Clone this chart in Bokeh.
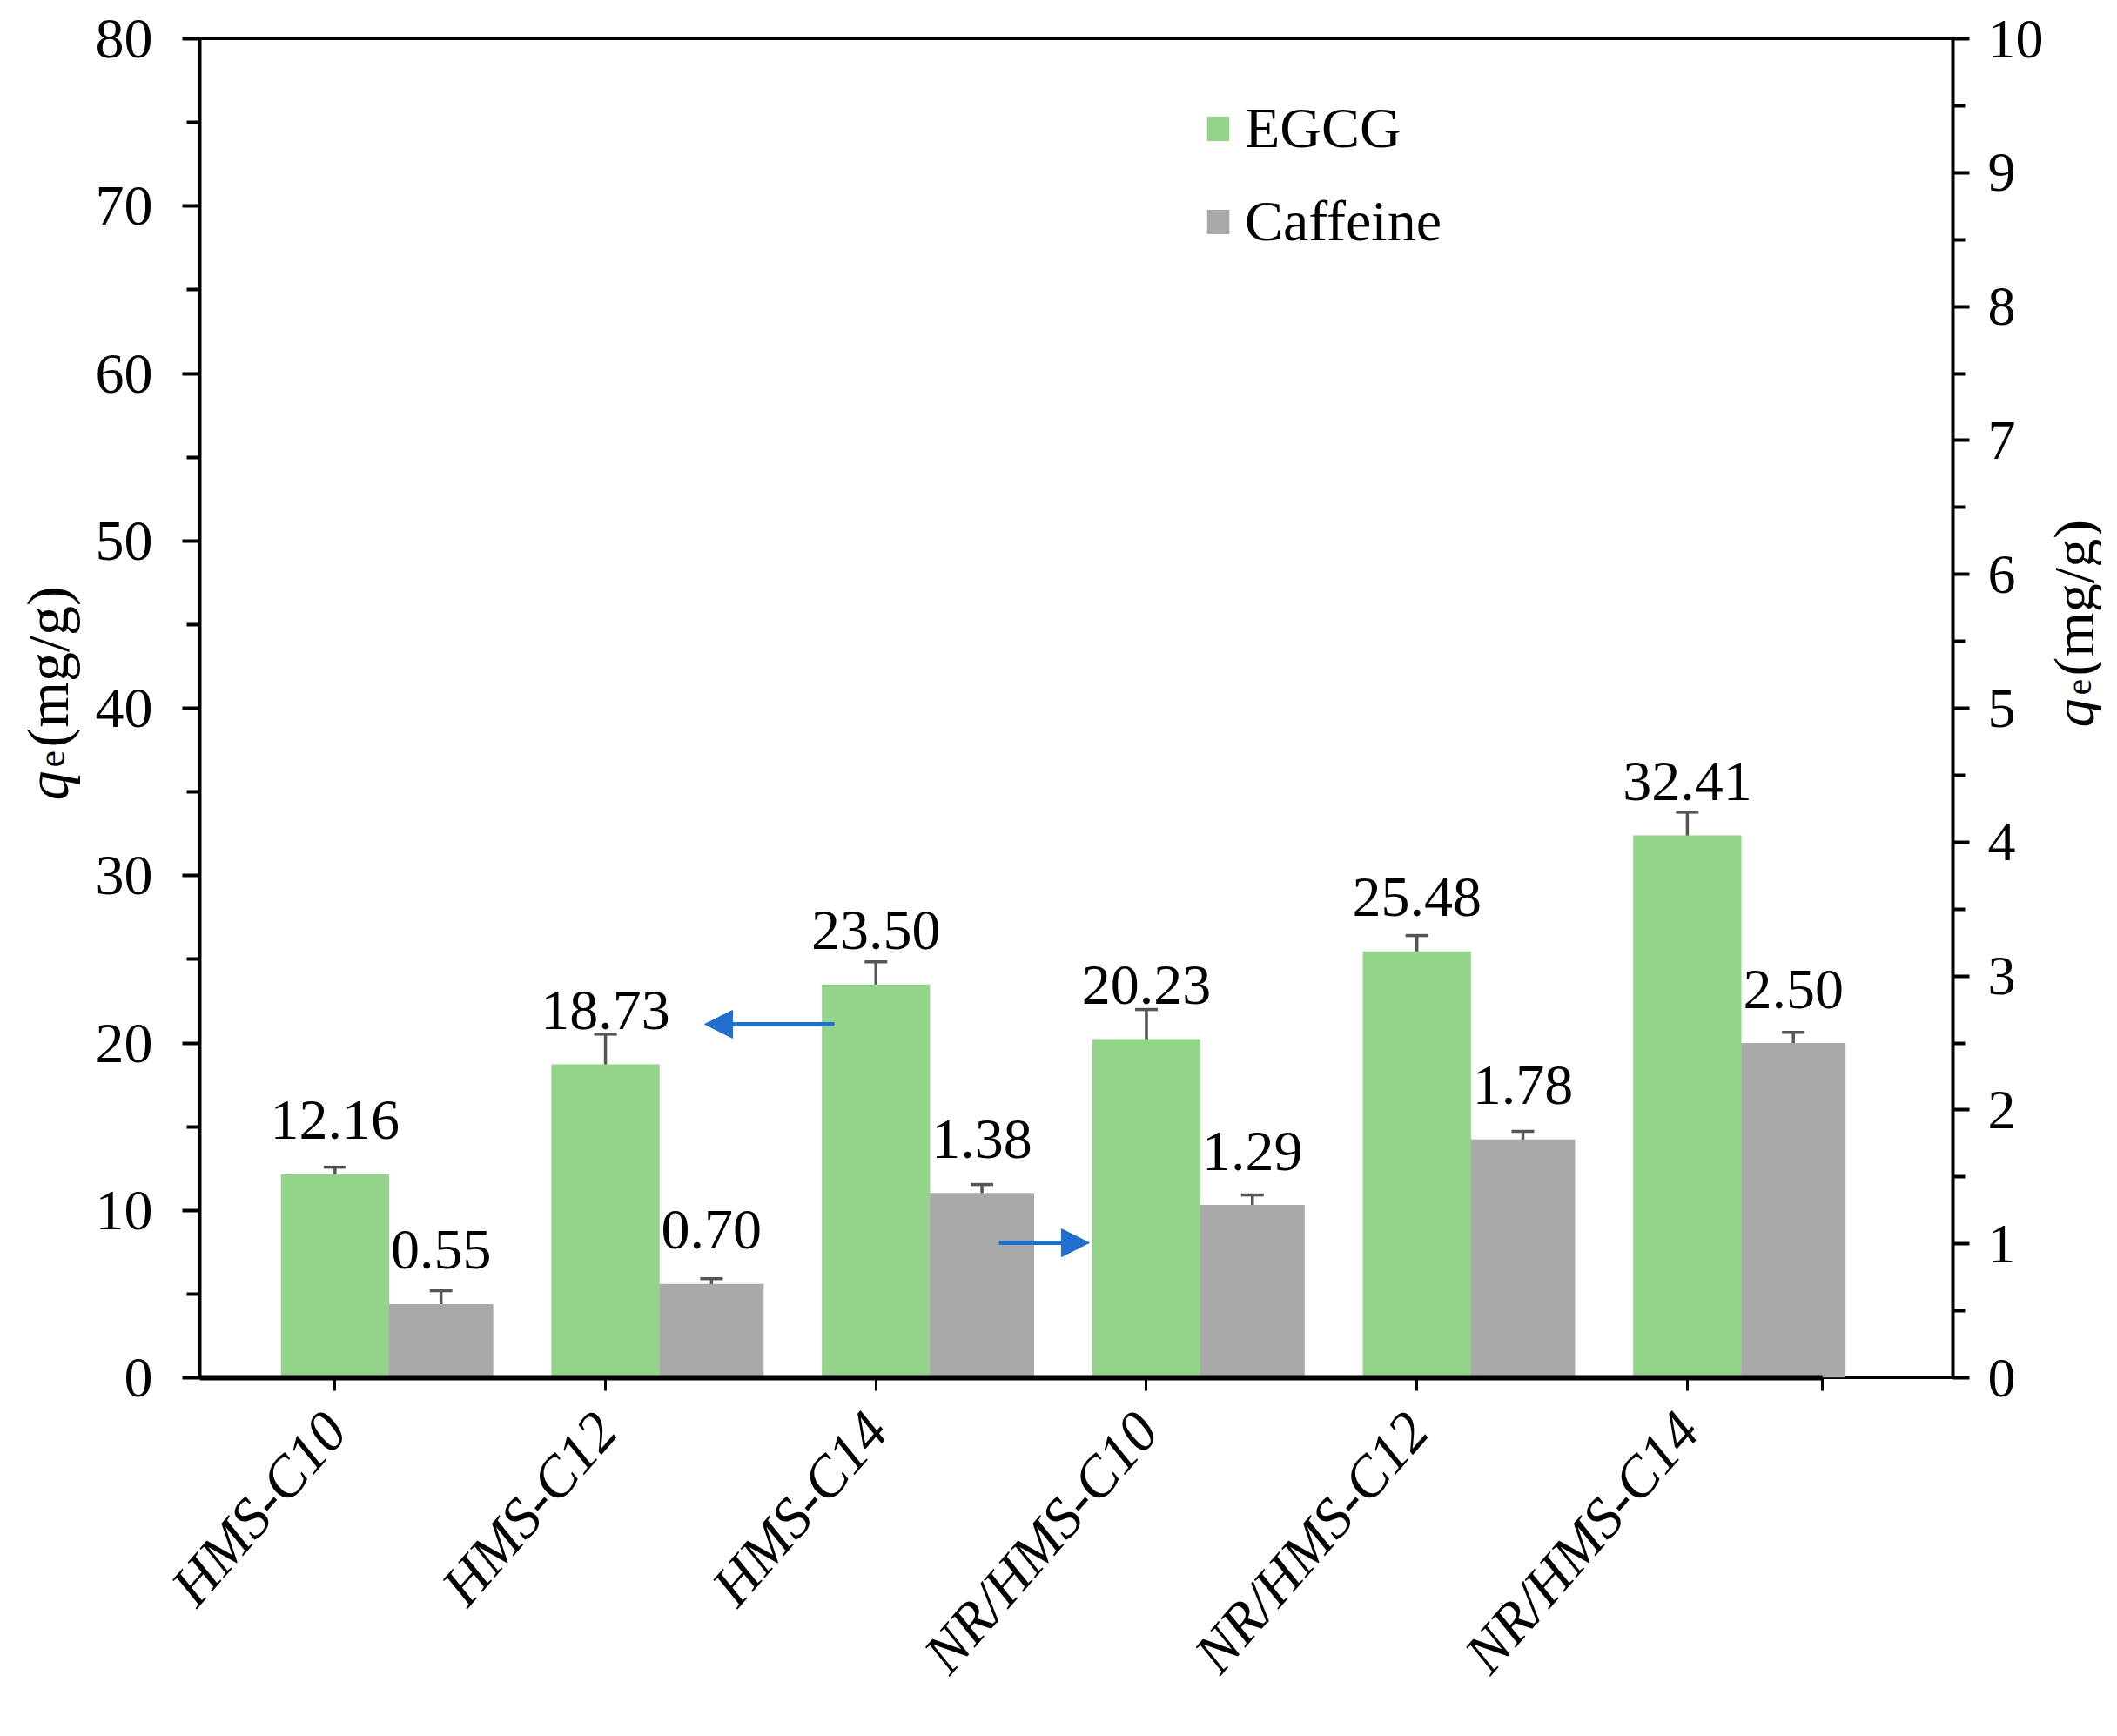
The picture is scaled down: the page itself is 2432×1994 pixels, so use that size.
import math
from bokeh.plotting import figure
from bokeh.layouts import row
from bokeh.models import (Range1d, LinearAxis, FixedTicker, Whisker, TeeHead, ColumnDataSource,
                          Legend, LegendItem, Label, Arrow, NormalHead)
from bokeh.core.properties import value
from bokeh.embed import file_html
from bokeh.resources import INLINE

# ---------------- data ----------------
categories = ["HMS-C10", "HMS-C12", "HMS-C14", "NR/HMS-C10", "NR/HMS-C12", "NR/HMS-C14"]
egcg = [12.16, 18.73, 23.50, 20.23, 25.48, 32.41]
egcg_err = [0.42, 1.80, 1.35, 1.77, 0.94, 1.38]
caffeine = [0.55, 0.70, 1.38, 1.29, 1.78, 2.50]
caffeine_err = [0.10, 0.04, 0.063, 0.075, 0.06, 0.08]
left_ticks = [0, 10, 20, 30, 40, 50, 60, 70, 80]
left_minor = [5, 15, 25, 35, 45, 55, 65, 75]
right_ticks = [0, 1, 2, 3, 4, 5, 6, 7, 8, 9, 10]
right_minor = [0.5, 1.5, 2.5, 3.5, 4.5, 5.5, 6.5, 7.5, 8.5, 9.5]
y_title = ["q", "e", "(mg/g)"]
# annotation arrows (data coordinates, left axis units)
arrow_left = dict(x0=2.346, y0=21.12, x1=1.867, y1=21.12)
arrow_right = dict(x0=2.955, y0=8.06, x1=3.289, y1=8.06)

GREEN = "#93D38A"
GRAY = "#A9A9A9"
ERR = "#555555"
BLUE = "#1F6FD0"
FONT = "Liberation Serif"
TXT = "66px"
H = 1966
FRAME_H = 1538
TOP = 44
BOTTOM = H - TOP - FRAME_H

n = len(categories)
egcg_x = [i + 0.5 for i in range(n)]
caf_x = [i + 0.892 for i in range(n)]

p = figure(frame_width=2014, frame_height=FRAME_H,
           x_range=Range1d(0, 6.482), y_range=Range1d(0, 80),
           output_backend="svg", toolbar_location=None,
           min_border_left=129, min_border_right=105, min_border_top=TOP, min_border_bottom=BOTTOM,
           outline_line_color="black", outline_line_width=3,
           background_fill_color="white", border_fill_color="white")
p.extra_y_ranges = {"right": Range1d(0, 10)}
p.grid.visible = False

# bars
r_egcg = p.vbar(x=egcg_x, top=egcg, bottom=0, width=0.40, fill_color=GREEN, line_color=None)
r_caf = p.vbar(x=caf_x, top=caffeine, bottom=0, width=0.386, fill_color=GRAY, line_color=None,
               y_range_name="right")

# error bars
src_e = ColumnDataSource(dict(base=egcg_x,
                              upper=[v + e for v, e in zip(egcg, egcg_err)],
                              lower=[v - e for v, e in zip(egcg, egcg_err)]))
src_c = ColumnDataSource(dict(base=caf_x,
                              upper=[v + e for v, e in zip(caffeine, caffeine_err)],
                              lower=[v - e for v, e in zip(caffeine, caffeine_err)]))
for src, rng in ((src_e, "default"), (src_c, "right")):
    w = Whisker(base="base", upper="upper", lower="lower", source=src, dimension="height",
                line_color=ERR, line_width=3.5, y_range_name=rng,
                upper_head=TeeHead(size=26, line_color=ERR, line_width=3.5),
                lower_head=TeeHead(size=26, line_color=ERR, line_width=3.5))
    p.add_layout(w)

# value labels
p.text(x=egcg_x, y=egcg, text=[f"{v:.2f}" for v in egcg], y_offset=-62,
       text_align="center", text_baseline="alphabetic",
       text_font=value(FONT), text_font_size=TXT, text_color="black")
p.text(x=caf_x, y=caffeine, text=[f"{v:.2f}" for v in caffeine], y_offset=-62,
       text_align="center", text_baseline="alphabetic",
       text_font=value(FONT), text_font_size=TXT, text_color="black",
       y_range_name="right")

# left axis
ya = p.left[0]
ya.ticker = FixedTicker(ticks=left_ticks, minor_ticks=left_minor)
ya.axis_line_width = 4
ya.major_tick_in = 0
ya.major_tick_out = 20
ya.minor_tick_in = 0
ya.minor_tick_out = 15
ya.major_tick_line_width = 4
ya.minor_tick_line_width = 4
ya.major_label_standoff = 34
ya.major_label_text_font = FONT
ya.major_label_text_font_size = TXT
ya.major_label_text_color = "black"

# right axis
ra = LinearAxis(y_range_name="right", ticker=FixedTicker(ticks=right_ticks, minor_ticks=right_minor))
ra.axis_line_width = 4
ra.major_tick_in = 0
ra.major_tick_out = 19
ra.minor_tick_in = 0
ra.minor_tick_out = 14
ra.major_tick_line_width = 4
ra.minor_tick_line_width = 4
ra.major_label_standoff = 21
ra.major_label_text_font = FONT
ra.major_label_text_font_size = "64px"
ra.major_label_text_color = "black"
p.add_layout(ra, "right")

# bottom axis
xa = p.below[0]
xticks = egcg_x + [6.0]
xa.ticker = FixedTicker(ticks=xticks)
overrides = {x: c for x, c in zip(egcg_x, categories)}
overrides[6.0] = ""
xa.major_label_overrides = overrides
xa.bounds = (0, 6)
xa.axis_line_width = 6
xa.major_tick_in = 0
xa.major_tick_out = 15
xa.major_tick_line_width = 3
xa.minor_tick_line_color = None
xa.major_label_orientation = 0.855
xa.major_label_standoff = 34
xa.major_label_text_font = FONT
xa.major_label_text_font_style = "italic"
xa.major_label_text_font_size = "66px"
xa.major_label_text_color = "black"

# arrows
for a in (arrow_left, arrow_right):
    p.add_layout(Arrow(x_start=a["x0"], y_start=a["y0"], x_end=a["x1"], y_end=a["y1"],
                       line_color=BLUE, line_width=5,
                       end=NormalHead(size=32, fill_color=BLUE, line_color=BLUE, line_width=1)))

# legend
legend = Legend(items=[LegendItem(label="EGCG", renderers=[r_egcg]),
                       LegendItem(label="Caffeine", renderers=[r_caf])],
                location=(1154, 1290), orientation="vertical",
                border_line_color=None, background_fill_alpha=0,
                label_text_font=FONT, label_text_font_size=TXT, label_text_color="black",
                glyph_width=32, glyph_height=35, spacing=31, padding=0, margin=0,
                label_standoff=15)
p.add_layout(legend)


# ---- axis title strips: frame aligned with the main frame, data = page pixels ----
def title_strip(x0, x1, xb, xe, yq, ye, ym, size):
    width = x1 - x0
    f = figure(frame_width=width, frame_height=FRAME_H,
               x_range=Range1d(x0, x1), y_range=Range1d(TOP + 8 + FRAME_H, TOP + 8),
               x_axis_location=None, y_axis_location=None,
               min_border_left=0, min_border_right=0, min_border_top=TOP, min_border_bottom=BOTTOM,
               toolbar_location=None, output_backend="svg", outline_line_color=None,
               background_fill_color="white", border_fill_color="white")
    f.grid.visible = False
    common = dict(angle=math.pi / 2, text_align="left", text_baseline="alphabetic",
                  text_font=FONT, text_color="black")
    f.add_layout(Label(x=xb, y=yq, text=y_title[0], text_font_style="italic",
                       text_font_size=f"{size}px", **common))
    f.add_layout(Label(x=xe, y=ye, text=y_title[1], text_font_size=f"{int(size * 0.65)}px", **common))
    f.add_layout(Label(x=xb, y=ym, text=y_title[2], text_font_size=f"{size}px", **common))
    return f


left_strip = title_strip(8, 108, 62, 67, 927, 889, 866, 68)
right_strip = title_strip(2356, 2420, 2388, 2393, 843, 806, 784, 66)

layout = row(left_strip, p, right_strip, spacing=0)
open("out.html", "w").write(file_html(layout, INLINE))
